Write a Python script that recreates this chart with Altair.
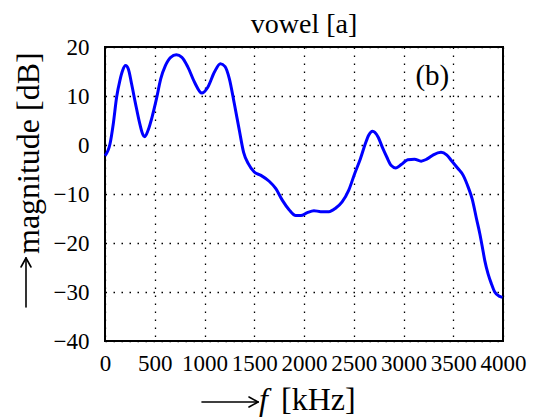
import altair as alt
import pandas as pd

freq_hz = [0, 50, 83, 117, 150, 177, 207, 233, 267, 307, 350, 377, 400, 433, 473,
           517, 560, 607, 660, 717, 773, 833, 900, 973, 1033, 1100, 1160, 1207, 1250,
           1300, 1350, 1393, 1440, 1500, 1567, 1650, 1717, 1783, 1850, 1917, 1967,
           2033, 2100, 2167, 2250, 2317, 2383, 2450, 2510, 2567, 2617, 2650, 2690,
           2743, 2790, 2833, 2877, 2923, 2977, 3043, 3110, 3177, 3233, 3300, 3377,
           3433, 3483, 3543, 3600, 3650, 3690, 3733, 3767, 3793, 3817, 3850, 3883,
           3917, 3967, 3995]
magnitude_db = [-2.2, 0.2, 4.3, 9.8, 13.2, 15.2, 16.2, 15.6, 12.5, 8.4, 4.3, 2.3, 1.7,
                3.0, 5.7, 9.4, 13.5, 16.2, 17.9, 18.4, 17.9, 15.9, 12.8, 10.6, 11.8,
                14.9, 16.6, 16.0, 13.5, 8.4, 3.0, -1.5, -3.8, -5.5, -6.2, -7.4, -8.9,
                -11.3, -13.2, -14.4, -14.4, -13.8, -13.4, -13.6, -13.6, -12.9, -11.6,
                -9.2, -5.8, -2.8, 0.3, 2.0, 2.8, 1.7, -0.6, -2.5, -4.2, -4.7, -4.0,
                -3.0, -2.9, -3.3, -2.9, -2.0, -1.5, -2.0, -3.2, -4.7, -6.2, -8.6,
                -11.0, -15.0, -18.1, -20.9, -23.6, -26.3, -28.3, -30.0, -30.9, -31.1]

x_ticks = [0, 500, 1000, 1500, 2000, 2500, 3000, 3500, 4000]
y_ticks = [-40, -30, -20, -10, 0, 10, 20]

panel_label = ["(b)"]
panel_f = [3290]
panel_db = [14.0]

title_text = "vowel [a]"
y_title = "magnitude [dB]"
x_var = "f"
x_unit = "[kHz]"

W, H = 398, 294
SERIF = "Liberation Serif"

df = pd.DataFrame({"f": freq_hz, "db": magnitude_db})

xs = alt.Scale(domain=[0, 4000], nice=False, zero=False)
ys = alt.Scale(domain=[-40, 20], nice=False, zero=False)

line = alt.Chart(df).mark_line(color="#0000ff", strokeWidth=3, interpolate="monotone").encode(
    x=alt.X("f:Q", scale=xs,
            axis=alt.Axis(values=x_ticks, title=None, grid=True, ticks=False, domain=False,
                          labelFont=SERIF, labelFontSize=23, labelColor="black",
                          labelPadding=11, labelOverlap=False, labelFlush=False,
                          format="d")),
    y=alt.Y("db:Q", scale=ys,
            axis=alt.Axis(values=y_ticks, title=None, grid=True, ticks=False, domain=False,
                          labelFont=SERIF, labelFontSize=23, labelColor="black",
                          labelPadding=16, labelOverlap=False, format="d",
                          labelExpr="replace(datum.label, '-', '\u2013')")),
)

lab = alt.Chart(pd.DataFrame({"f": panel_f, "db": panel_db, "t": panel_label})).mark_text(
    font=SERIF, fontSize=29, color="black"
).encode(x=alt.X("f:Q", scale=xs), y=alt.Y("db:Q", scale=ys), text="t:N")

one = pd.DataFrame({"k": [0]})

def txt(s, x, y, size, align="center", baseline="alphabetic", angle=0, style="normal"):
    return alt.Chart(one).mark_text(
        text=s, font=SERIF, fontSize=size, color="black", align=align,
        baseline=baseline, angle=angle, fontStyle=style
    ).encode(x=alt.value(x), y=alt.value(y))

def seg(x1, y1, x2, y2):
    return alt.Chart(one).mark_rule(color="black", strokeWidth=1.6, strokeCap="round").encode(
        x=alt.value(x1), y=alt.value(y1), x2=alt.value(x2), y2=alt.value(y2))

title = txt(title_text, W / 2, -14, 28)
ytitle = txt(y_title, -66, 207, 32, align="left", angle=270)
xf = txt(x_var, 154, 363, 32, align="left", style="italic")
xu = txt(x_unit, 176, 363, 32, align="left")

# arrows of the axis titles
xa = [seg(97, 355, 153, 355), seg(153, 355, 144, 350), seg(153, 355, 144, 360)]
ya = [seg(-79, 260, -79, 211), seg(-79, 211, -84, 220), seg(-79, 211, -74, 220)]

chart = alt.layer(line, lab, title, ytitle, xf, xu, *xa, *ya).properties(
    width=W, height=H,
    autosize=alt.AutoSizeParams(type="none"),
    padding={"left": 97, "top": 39, "right": 36, "bottom": 76},
    background="white",
).configure_view(
    stroke="black", strokeWidth=2
).configure_axis(
    gridColor="black", gridDash=[1.5, 6.5], gridWidth=1.3, gridOpacity=1
)

chart.save("out.html", embed_options={"renderer": "svg", "actions": False})
